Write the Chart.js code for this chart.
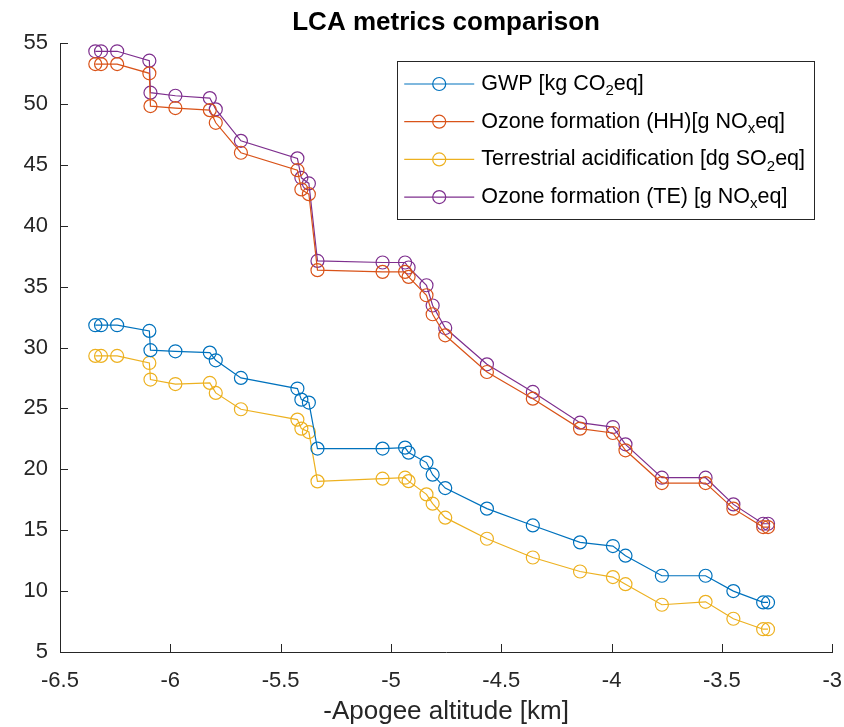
<!DOCTYPE html>
<html>
<head>
<meta charset="utf-8">
<script src="https://cdn.jsdelivr.net/npm/chart.js@4"></script>
<style>
  html, body { margin: 0; padding: 0; background: #fff; }
  #wrap { width: 844px; height: 727px; }
</style>
</head>
<body>
<div id="wrap"><canvas id="lca"></canvas></div>
<script>
// x positions shared by every series (negative apogee altitude, km)
const altitude = [-6.340, -6.314, -6.241, -6.095, -6.090, -5.977, -5.821, -5.794, -5.680, -5.424,
  -5.406, -5.372, -5.333, -5.038, -4.936, -4.920, -4.839, -4.811, -4.754, -4.565,
  -4.357, -4.143, -3.994, -3.937, -3.772, -3.574, -3.448, -3.313, -3.291];

const gwp = [31.83, 31.83, 31.83, 31.36, 29.78, 29.69, 29.58, 28.95, 27.50, 26.63,
  25.72, 25.48, 21.70, 21.70, 21.78, 21.37, 20.55, 19.56, 18.46, 16.77,
  15.39, 14.00, 13.70, 12.91, 11.26, 11.26, 10.00, 9.07, 9.07];

const ozoneHH = [53.27, 53.27, 53.27, 52.51, 49.82, 49.66, 49.49, 48.45, 45.99, 44.56,
  42.98, 42.59, 36.35, 36.21, 36.21, 35.80, 34.29, 32.73, 31.00, 27.99,
  25.80, 23.34, 22.98, 21.56, 18.87, 18.87, 16.77, 15.26, 15.26];

const terrAcid = [29.31, 29.31, 29.31, 28.73, 27.37, 27.00, 27.09, 26.27, 24.93, 24.08,
  23.34, 23.06, 19.01, 19.23, 19.31, 19.03, 17.94, 17.18, 16.03, 14.30,
  12.76, 11.61, 11.15, 10.57, 8.88, 9.12, 7.73, 6.87, 6.87];

const ozoneTE = [54.32, 54.32, 54.32, 53.55, 50.92, 50.67, 50.48, 49.55, 46.97, 45.53,
  43.93, 43.47, 37.11, 36.98, 36.98, 36.57, 35.11, 33.45, 31.60, 28.62,
  26.35, 23.83, 23.47, 22.05, 19.31, 19.31, 17.12, 15.53, 15.53];

// legend labels, split so the subscripts can be drawn smaller
const seriesLabels = [
  [['GWP [kg CO'], ['2', 'sub'], ['eq]']],
  [['Ozone formation (HH)[g NO'], ['x', 'sub'], ['eq]']],
  [['Terrestrial acidification [dg SO'], ['2', 'sub'], ['eq]']],
  [['Ozone formation (TE) [g NO'], ['x', 'sub'], ['eq]']]
];
const seriesColors = ['#0072BD', '#D95319', '#EDB120', '#7E2F8E'];
const seriesValues = [gwp, ozoneHH, terrAcid, ozoneTE];

const axisColor = '#262626';
const FONT = '"Liberation Sans", Arial, Helvetica, sans-serif';

function makeDataset(values, i) {
  return {
    label: seriesLabels[i].map(p => p[0]).join(''),
    data: altitude.map((x, k) => ({ x: x, y: values[k] })),
    showLine: true,
    borderColor: seriesColors[i],
    backgroundColor: 'rgba(0,0,0,0)',
    borderWidth: 1.2,
    pointRadius: 6.5,
    pointBorderWidth: 1.2,
    pointBackgroundColor: 'rgba(0,0,0,0)',
    pointBorderColor: seriesColors[i],
    tension: 0
  };
}

// inward ticks, MATLAB style
const tickMarks = {
  id: 'tickMarks',
  afterDraw(chart) {
    const ctx = chart.ctx;
    const xs = chart.scales.x, ys = chart.scales.y;
    const area = chart.chartArea;
    ctx.save();
    ctx.strokeStyle = axisColor;
    ctx.lineWidth = 1;
    ctx.beginPath();
    xs.ticks.forEach(t => {
      const px = Math.round(xs.getPixelForValue(t.value)) + 0.5;
      ctx.moveTo(px, area.bottom);
      ctx.lineTo(px, area.bottom - 8);
    });
    ys.ticks.forEach(t => {
      const py = Math.round(ys.getPixelForValue(t.value)) + 0.5;
      ctx.moveTo(area.left, py);
      ctx.lineTo(area.left + 8, py);
    });
    ctx.stroke();
    ctx.restore();
  }
};

// title centred on the plot area
const plotTitle = {
  id: 'plotTitle',
  afterDraw(chart) {
    const ctx = chart.ctx;
    const area = chart.chartArea;
    ctx.save();
    ctx.fillStyle = '#000';
    ctx.font = 'bold 26px ' + FONT;
    ctx.textAlign = 'center';
    ctx.textBaseline = 'middle';
    ctx.fillText('LCA metrics comparison', (area.left + area.right) / 2, 23);
    ctx.restore();
  }
};

function drawRich(ctx, parts, x, y) {
  parts.forEach(p => {
    if (p[1] === 'sub') {
      ctx.font = '15px ' + FONT;
      ctx.fillText(p[0], x, y + 7);
    } else {
      ctx.font = '21.5px ' + FONT;
      ctx.fillText(p[0], x, y);
    }
    x += ctx.measureText(p[0]).width;
  });
}

const boxLegend = {
  id: 'boxLegend',
  afterDraw(chart) {
    const ctx = chart.ctx;
    const area = chart.chartArea;
    const right = area.right - 18, top = area.top + 18;
    const left = right - 417, bottom = top + 158;
    ctx.save();
    ctx.fillStyle = '#fff';
    ctx.fillRect(left, top, right - left, bottom - top);
    ctx.strokeStyle = axisColor;
    ctx.lineWidth = 1;
    ctx.strokeRect(Math.round(left) + 0.5, Math.round(top) + 0.5, right - left, bottom - top);
    seriesLabels.forEach((parts, i) => {
      const y = top + 23 + i * 37.7;
      ctx.strokeStyle = seriesColors[i];
      ctx.lineWidth = 1.2;
      ctx.beginPath();
      ctx.moveTo(left + 7, y);
      ctx.lineTo(left + 77, y);
      ctx.stroke();
      ctx.beginPath();
      ctx.arc(left + 42, y, 6.5, 0, Math.PI * 2);
      ctx.stroke();
      ctx.fillStyle = '#000';
      ctx.textAlign = 'left';
      ctx.textBaseline = 'middle';
      drawRich(ctx, parts, left + 84, y);
    });
    ctx.restore();
  }
};

new Chart(document.getElementById('lca'), {
  type: 'scatter',
  data: { datasets: seriesValues.map(makeDataset) },
  options: {
    responsive: true,
    maintainAspectRatio: false,
    animation: false,
    layout: { padding: { top: 43, right: 0, left: 0, bottom: 0 } },
    plugins: {
      legend: { display: false },
      title: { display: false },
      tooltip: { enabled: false }
    },
    scales: {
      x: {
        type: 'linear',
        min: -6.5,
        max: -3,
        // tickLength only pushes the labels down, the visible ticks come from the plugin
        grid: { display: false, drawTicks: true, tickLength: 14 },
        border: { display: true, color: axisColor, width: 1 },
        ticks: {
          stepSize: 0.5,
          color: axisColor,
          padding: 2,
          font: { family: FONT, size: 22 },
          maxRotation: 0,
          callback: v => String(Math.round(v * 10) / 10)
        },
        title: {
          display: true,
          text: '-Apogee altitude [km]',
          color: axisColor,
          font: { family: FONT, size: 26 },
          padding: { top: 0, bottom: 0 }
        },
        afterFit(scale) { scale.height = 75; }
      },
      y: {
        min: 5,
        max: 55,
        grid: { display: false, drawTicks: false },
        border: { display: true, color: axisColor, width: 1 },
        ticks: {
          stepSize: 5,
          color: axisColor,
          padding: 12,
          font: { family: FONT, size: 22 }
        },
        afterFit(scale) { scale.width = 60; }
      }
    }
  },
  plugins: [tickMarks, plotTitle, boxLegend]
});
</script>
</body>
</html>
